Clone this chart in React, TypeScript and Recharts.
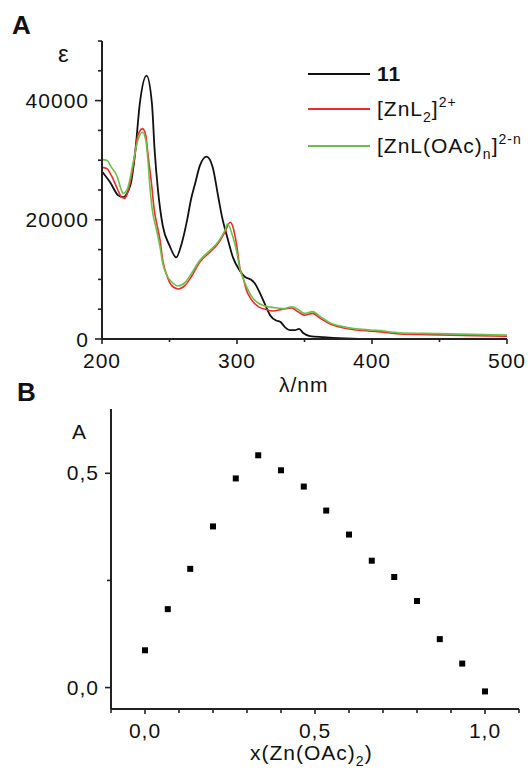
import { LineChart, Line, XAxis, YAxis, ScatterChart, Scatter, Legend } from "recharts";

const FONT = '"Liberation Sans", Arial, Helvetica, sans-serif';
const AXIS = "#222222";
const C_11 = "#111111";
const C_ZNL2 = "#ee2b2b";
const C_OAC = "#6cbf4a";

// panel A: absorption spectra (wavelength in nm, epsilon)
const wl11 = [200, 206, 212, 215.5, 221, 224.5, 228, 233, 237, 239, 241.5, 245, 250, 255, 259, 263, 266, 269, 272.5, 277.5, 282, 286, 289, 293, 297, 302, 306, 310, 313, 317, 321, 324.5, 329, 332, 335.5, 339, 343, 346, 349, 354, 364, 380, 400, 500];
const eps11 = [28100, 26300, 24100, 23800, 25800, 31100, 39500, 44200, 39500, 31600, 24900, 19000, 15700, 13700, 16000, 19900, 23500, 26100, 29100, 30600, 28800, 24000, 20400, 16900, 13700, 11500, 10400, 10000, 9400, 7700, 5700, 4000, 3100, 2900, 2000, 1500, 1500, 1700, 1000, 500, 300, 100, 0, 0];

const wlZnL2 = [200, 203.5, 207, 211, 214.5, 217, 219, 223, 226.5, 230, 232.5, 234, 237, 238.5, 240.5, 243, 245, 248, 251.5, 256.5, 261.5, 266, 272.5, 280, 286, 291, 295, 297, 300, 302, 304.5, 307, 311, 316, 321, 326.5, 334, 340.5, 345, 350, 356, 361.5, 369, 376, 388.5, 406, 420, 450, 500];
const epsZnL2 = [28800, 28600, 27400, 25400, 23800, 23600, 24600, 28800, 34100, 35300, 34100, 31100, 25400, 22000, 19400, 16600, 13200, 10700, 9000, 8400, 9000, 10400, 12900, 14600, 16000, 17900, 19600, 18800, 15400, 12100, 10300, 8200, 6500, 5400, 5000, 4700, 5000, 5200, 4600, 4000, 4300, 3500, 2500, 2000, 1500, 1200, 850, 700, 450];

const wlOAc = [200, 203.5, 207, 211, 214.5, 215.5, 219, 223, 226.5, 230, 232.5, 234, 235.5, 237, 240.5, 243, 245, 248, 251.5, 256.5, 261.5, 266, 272.5, 280, 286, 291, 293, 297, 300, 302, 304.5, 307, 311, 316, 321, 326.5, 334, 340.5, 345, 350, 356, 361.5, 369, 376, 388.5, 406, 420, 450, 500];
const epsOAc = [30100, 30000, 28800, 27400, 24900, 24400, 25300, 29500, 33300, 34700, 33300, 30000, 25500, 22100, 18200, 15400, 12700, 10700, 9600, 8900, 9500, 10900, 13200, 14900, 16300, 18200, 19300, 17100, 14400, 11900, 10200, 8800, 7100, 6000, 5500, 5300, 5100, 5400, 5000, 4300, 4600, 3800, 2700, 2200, 1700, 1400, 1050, 900, 650];

const aXTicks = [200, 250, 300, 350, 400, 450, 500];
const aXMajor = [200, 300, 400, 500];
const aYTicks = [0, 5000, 10000, 15000, 20000, 25000, 30000, 35000, 40000, 45000, 50000];
const aYMajor = [0, 20000, 40000];

// panel B: Job plot
const molFrac = [0, 0.067, 0.133, 0.2, 0.267, 0.333, 0.4, 0.467, 0.533, 0.6, 0.667, 0.733, 0.8, 0.867, 0.933, 1.0];
const absB = [0.087, 0.183, 0.277, 0.376, 0.488, 0.542, 0.507, 0.469, 0.413, 0.357, 0.296, 0.258, 0.202, 0.113, 0.056, -0.009];

const bXTicks = [-0.1, 0, 0.1, 0.2, 0.3, 0.4, 0.5, 0.6, 0.7, 0.8, 0.9, 1.0, 1.1];
const bXMajor = [0, 0.5, 1.0];
const bYTicks = [0, 0.25, 0.5];
const bYMajor = [0, 0.5];

const zip = (xs: number[], ys: number[]) => xs.map((x, i) => ({ x, y: ys[i] }));

const isIn = (list: number[], v: number) => list.some(m => Math.abs(m - v) < 1e-9);

function leftTick(majors: number[], fmt: (v: number) => string, majorLen: number, minorLen: number, gap: number, dy: number) {
  return (props: any) => {
    const { x, y, payload } = props;
    const major = isIn(majors, payload.value);
    const len = major ? majorLen : minorLen;
    return (
      <g>
        <line x1={x - len} y1={y} x2={x} y2={y} stroke={AXIS} strokeWidth={1.6} />
        {major && (
          <text x={x - len - gap} y={y + dy} textAnchor="end" fontSize={21} letterSpacing={1} fontFamily={FONT} fill="#111">
            {fmt(payload.value)}
          </text>
        )}
      </g>
    );
  };
}

function bottomTick(majors: number[], fmt: (v: number) => string, majorLen: number, minorLen: number) {
  return (props: any) => {
    const { x, y, payload } = props;
    const major = isIn(majors, payload.value);
    const len = major ? majorLen : minorLen;
    return (
      <g>
        <line x1={x} y1={y} x2={x} y2={y + len} stroke={AXIS} strokeWidth={1.6} />
        {major && (
          <text x={x} y={y + 29} textAnchor="middle" fontSize={21} letterSpacing={1} fontFamily={FONT} fill="#111">
            {fmt(payload.value)}
          </text>
        )}
      </g>
    );
  };
}

const comma = (v: number) => v.toFixed(1).replace(".", ",");

function Txt({ x, base, size, bold, children }: { x: number; base: number; size: number; bold?: boolean; children: any }) {
  return (
    <div
      style={{
        position: "absolute",
        left: x,
        top: base - 0.905 * size,
        fontSize: size,
        lineHeight: `${1.117 * size}px`,
        fontWeight: bold ? "bold" : "normal",
        letterSpacing: bold ? 0 : 1,
        whiteSpace: "nowrap",
        color: "#111",
      }}
    >
      {children}
    </div>
  );
}

const sub = (t: string) => <span style={{ fontSize: 14, position: "relative", top: 6 }}>{t}</span>;
const sup = (t: string) => <span style={{ fontSize: 14, position: "relative", top: -9 }}>{t}</span>;

const legendRows = [
  { color: C_11, y: 74, label: <b>11</b> },
  { color: C_ZNL2, y: 109, label: <span>[ZnL{sub("2")}]{sup("2+")}</span> },
  { color: C_OAC, y: 146, label: <span>[ZnL(OAc){sub("n")}]{sup("2-n")}</span> },
];

function SpectraLegend() {
  return (
    <div style={{ position: "relative", width: 528, height: 180, fontFamily: FONT }}>
      {legendRows.map((r, i) => (
        <div key={i}>
          <div style={{ position: "absolute", left: 308, top: r.y - 1, width: 62, height: 2, background: r.color }} />
          <div style={{ position: "absolute", left: 377, top: r.y - 12, fontSize: 21, lineHeight: "24px", letterSpacing: 1, whiteSpace: "nowrap", color: "#111" }}>
            {r.label}
          </div>
        </div>
      ))}
    </div>
  );
}

export default function App() {
  return (
    <div style={{ position: "absolute", left: 0, top: 0, width: 528, height: 772, background: "#fff", fontFamily: FONT }}>
      <div style={{ position: "absolute", left: 0, top: 0 }}>
        <LineChart width={528} height={380} margin={{ top: 41, right: 21, bottom: 11, left: 0 }}>
          <XAxis
            type="number"
            dataKey="x"
            domain={[200, 500]}
            ticks={aXTicks}
            interval={0}
            height={30}
            stroke={AXIS}
            axisLine={{ stroke: AXIS, strokeWidth: 2 }}
            tickLine={false}
            tickSize={0}
            tickMargin={0}
            tick={bottomTick(aXMajor, v => String(v), 5, 3)}
          />
          <YAxis
            type="number"
            domain={[0, 50000]}
            ticks={aYTicks}
            interval={0}
            width={102}
            stroke={AXIS}
            axisLine={{ stroke: AXIS, strokeWidth: 2 }}
            tickLine={false}
            tickSize={0}
            tickMargin={0}
            tick={leftTick(aYMajor, v => String(v), 7, 4, 6, 7.5)}
          />
          <Legend
            layout="vertical"
            align="center"
            verticalAlign="middle"
            wrapperStyle={{ top: 0, left: 0, width: 528, height: 180 }}
            content={() => <SpectraLegend />}
          />
          <Line data={zip(wl11, eps11)} dataKey="y" type="monotone" stroke={C_11} strokeWidth={1.8} dot={false} isAnimationActive={false} />
          <Line data={zip(wlZnL2, epsZnL2)} dataKey="y" type="monotone" stroke={C_ZNL2} strokeWidth={1.6} dot={false} isAnimationActive={false} />
          <Line data={zip(wlOAc, epsOAc)} dataKey="y" type="monotone" stroke={C_OAC} strokeWidth={1.6} dot={false} isAnimationActive={false} />
        </LineChart>
      </div>

      <div style={{ position: "absolute", left: 0, top: 380 }}>
        <ScatterChart width={528} height={392} margin={{ top: 29, right: 9, bottom: 33, left: 0 }}>
          <XAxis
            type="number"
            dataKey="x"
            domain={[-0.1, 1.1]}
            ticks={bXTicks}
            interval={0}
            height={30}
            stroke={AXIS}
            axisLine={{ stroke: AXIS, strokeWidth: 2 }}
            tickLine={false}
            tickSize={0}
            tickMargin={0}
            tick={bottomTick(bXMajor, comma, 5, 4)}
          />
          <YAxis
            type="number"
            dataKey="y"
            domain={[-0.05, 0.65]}
            ticks={bYTicks}
            interval={0}
            width={111}
            stroke={AXIS}
            axisLine={{ stroke: AXIS, strokeWidth: 2 }}
            tickLine={false}
            tickSize={0}
            tickMargin={0}
            tick={leftTick(bYMajor, comma, 6, 4, 6, 7)}
          />
          <Scatter
            data={zip(molFrac, absB)}
            isAnimationActive={false}
            shape={(p: any) => <rect x={p.cx - 3} y={p.cy - 3} width={6} height={6} fill="#000" />}
          />
        </ScatterChart>
      </div>

      <Txt x={12} base={35} size={26} bold>A</Txt>
      <Txt x={58} base={63} size={24}>ε</Txt>
      <Txt x={279} base={392} size={21}>λ/nm</Txt>
      <Txt x={17} base={402} size={26} bold>B</Txt>
      <Txt x={72} base={439} size={21}>A</Txt>
      <Txt x={250} base={760} size={21}>
        x(Zn(OAc){sub("2")})
      </Txt>
    </div>
  );
}
